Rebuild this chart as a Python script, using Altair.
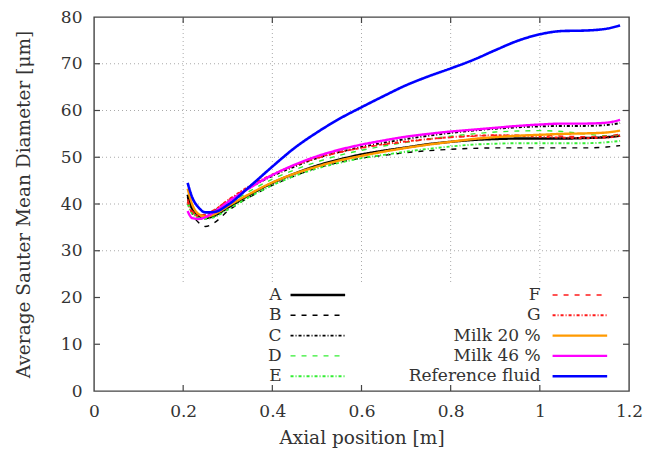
import altair as alt
import pandas as pd

# ---------------- data ----------------
x_pos = [0.21, 0.22, 0.235, 0.25, 0.27, 0.30, 0.35, 0.40, 0.45, 0.50, 0.55, 0.60,
         0.65, 0.70, 0.75, 0.80, 0.85, 0.90, 0.95, 1.00, 1.05, 1.10, 1.15, 1.18]

series_names = ["A", "B", "C", "D", "E", "F", "G", "Milk 20 %", "Milk 46 %", "Reference fluid"]

A = [42.0, 39.0, 37.5, 37.0, 37.5, 39.2, 42.0, 44.5, 46.5, 48.2, 49.5, 50.6,
     51.4, 52.1, 52.8, 53.3, 53.7, 53.9, 54.0, 54.0, 54.0, 54.1, 54.3, 54.6]
B = [41.0, 38.0, 36.0, 35.2, 36.0, 38.5, 41.5, 44.0, 46.0, 47.7, 48.9, 49.8,
     50.4, 51.0, 51.4, 51.7, 51.9, 52.0, 52.0, 52.0, 52.0, 52.0, 52.2, 52.5]
C = [41.5, 39.0, 37.5, 37.5, 38.5, 40.5, 43.5, 46.0, 48.0, 49.8, 51.1, 52.2,
     53.1, 53.9, 54.6, 55.2, 55.7, 56.1, 56.4, 56.6, 56.7, 56.7, 56.9, 57.3]
D = [40.5, 38.5, 37.2, 37.0, 37.8, 39.8, 42.8, 45.3, 47.3, 49.0, 50.4, 51.5,
     52.4, 53.2, 53.9, 54.5, 55.0, 55.4, 55.6, 55.7, 55.5, 55.0, 54.6, 54.8]
E = [40.0, 38.0, 37.0, 36.8, 37.2, 38.8, 41.6, 44.0, 46.0, 47.6, 48.8, 49.8,
     50.5, 51.2, 51.8, 52.3, 52.7, 52.9, 53.0, 53.0, 53.0, 53.0, 53.2, 53.5]
F = [41.0, 38.5, 37.6, 37.8, 38.8, 40.8, 43.8, 46.2, 48.2, 49.8, 51.0, 52.0,
     52.7, 53.3, 53.8, 54.2, 54.5, 54.7, 54.7, 54.7, 54.5, 54.4, 54.5, 55.0]
G = [40.5, 38.2, 37.4, 37.6, 38.7, 40.8, 43.9, 46.3, 48.3, 49.9, 51.1, 52.0,
     52.8, 53.4, 53.9, 54.3, 54.6, 54.7, 54.6, 54.4, 54.2, 54.1, 54.2, 54.6]
milk20 = [43.3, 40.0, 37.8, 37.3, 37.8, 39.5, 42.2, 44.6, 46.5, 48.0, 49.3, 50.3,
          51.2, 52.0, 52.7, 53.3, 53.9, 54.3, 54.6, 54.8, 55.0, 55.1, 55.3, 55.7]
milk46 = [38.5, 37.0, 36.8, 37.2, 38.3, 40.4, 43.5, 46.2, 48.4, 50.2, 51.6, 52.7,
          53.6, 54.4, 55.0, 55.5, 55.9, 56.3, 56.7, 57.0, 57.2, 57.2, 57.4, 58.0]
reference = [44.5, 41.5, 39.2, 38.2, 38.3, 39.8, 43.8, 48.0, 52.0, 55.3, 58.2, 60.7,
             63.1, 65.4, 67.3, 69.0, 70.8, 72.9, 74.9, 76.3, 77.0, 77.1, 77.5, 78.2]

series_values = [A, B, C, D, E, F, G, milk20, milk46, reference]

x_ticks = [0, 0.2, 0.4, 0.6, 0.8, 1.0, 1.2]
y_ticks = [0, 10, 20, 30, 40, 50, 60, 70, 80]

# ---------------- styles ----------------
colors = ["#000000", "#000000", "#000000", "#33ee33", "#33ee33",
          "#ff1a1a", "#ff1a1a", "#ff9a00", "#ff00ff", "#0000ff"]
dashes = [[1, 0], [5, 6], [3, 2, 1, 2], [5, 6], [3, 2, 1, 2],
          [5, 6], [3, 2, 1, 2], [1, 0], [1, 0], [1, 0]]
widths = [2.4, 1.4, 1.9, 1.4, 1.9, 1.4, 1.9, 2.4, 2.4, 2.6]

W, H = 535, 374
XMAX, YMAX = 1.2, 80
FONT = "DejaVu Serif"
TXT = "#333333"

rows = []
for name, vals, w in zip(series_names, series_values, widths):
    for xv, yv in zip(x_pos, vals):
        rows.append({"series": name, "x": xv, "y": yv, "w": w})
df = pd.DataFrame(rows)

xs = alt.Scale(domain=[0, XMAX], nice=False, zero=False)
ys = alt.Scale(domain=[0, YMAX], nice=False, zero=False)
col_scale = alt.Scale(domain=series_names, range=colors)
dash_scale = alt.Scale(domain=series_names, range=dashes)

# legend layout (reference-pixel -> data coordinates)
def px_x(p):
    return p / 539 * XMAX

def px_y(p):
    return YMAX - p / H * YMAX

leg_rows = []
for i, (name, w) in enumerate(zip(series_names, widths)):
    col, row = divmod(i, 5)
    tx = 189 if col == 0 else 450
    l1 = 198 if col == 0 else 462
    l2 = 253 if col == 0 else 517
    ty = 278 + row * 20.3
    leg_rows.append({"series": name, "tx": px_x(tx), "lx1": px_x(l1),
                     "lx2": px_x(l2), "ty": px_y(ty), "w": w})
leg = pd.DataFrame(leg_rows)

# ---------------- layers ----------------
base_axis_x = alt.Axis(values=x_ticks, format="~g", grid=False, ticks=False, domain=False,
                       labelFlush=False, labelOverlap=False, labelPadding=12,
                       title="Axial position [m]", titlePadding=9)
base_axis_y = alt.Axis(values=y_ticks, format="d", grid=False, ticks=False, domain=False,
                       labelFlush=False, labelOverlap=False, labelPadding=12,
                       title="Average Sauter Mean Diameter [μm]", titlePadding=27)

xgrid = alt.Chart(pd.DataFrame({"v": x_ticks[1:-1]})).mark_rule(
    color="#aaaaaa", strokeDash=[1, 3], strokeWidth=1).encode(
    x=alt.X("v:Q", scale=xs, axis=base_axis_x), y=alt.value(0), y2=alt.value(H))
ygrid = alt.Chart(pd.DataFrame({"v": y_ticks[1:-1]})).mark_rule(
    color="#aaaaaa", strokeDash=[1, 3], strokeWidth=1).encode(
    y=alt.Y("v:Q", scale=ys, axis=base_axis_y), x=alt.value(0), x2=alt.value(W))

legbox = alt.Chart(pd.DataFrame({"k": [0]})).mark_rect(color="white").encode(
    x=alt.value(1), x2=alt.value(W - 1), y=alt.value(266), y2=alt.value(H - 1))

tick_df_x = pd.DataFrame({"v": x_ticks[1:-1]})
tick_df_y = pd.DataFrame({"v": y_ticks[1:-1]})
tick_style = dict(color="#444444", strokeWidth=1.2)
xt_bottom = alt.Chart(tick_df_x).mark_rule(**tick_style).encode(
    x=alt.X("v:Q", scale=xs), y=alt.value(H), y2=alt.value(H - 6))
xt_top = alt.Chart(tick_df_x).mark_rule(**tick_style).encode(
    x=alt.X("v:Q", scale=xs), y=alt.value(0), y2=alt.value(6))
yt_left = alt.Chart(tick_df_y).mark_rule(**tick_style).encode(
    y=alt.Y("v:Q", scale=ys), x=alt.value(0), x2=alt.value(6))
yt_right = alt.Chart(tick_df_y).mark_rule(**tick_style).encode(
    y=alt.Y("v:Q", scale=ys), x=alt.value(W), x2=alt.value(W - 6))

lines = alt.Chart(df).mark_line(interpolate="monotone").encode(
    x=alt.X("x:Q", scale=xs),
    y=alt.Y("y:Q", scale=ys),
    color=alt.Color("series:N", scale=col_scale, legend=None),
    strokeDash=alt.StrokeDash("series:N", scale=dash_scale, legend=None),
    strokeWidth=alt.StrokeWidth("w:Q", scale=None, legend=None),
    order=alt.Order("x:Q"),
)

leg_text = alt.Chart(leg).mark_text(align="right", baseline="middle", font=FONT,
                                    fontSize=17, color=TXT).encode(
    x=alt.X("tx:Q", scale=xs), y=alt.Y("ty:Q", scale=ys), text="series:N")
leg_lines = alt.Chart(leg).mark_rule().encode(
    x=alt.X("lx1:Q", scale=xs), x2="lx2:Q", y=alt.Y("ty:Q", scale=ys),
    color=alt.Color("series:N", scale=col_scale, legend=None),
    strokeDash=alt.StrokeDash("series:N", scale=dash_scale, legend=None),
    strokeWidth=alt.StrokeWidth("w:Q", scale=None, legend=None),
)

chart = alt.layer(xgrid, ygrid, legbox, xt_bottom, xt_top, yt_left, yt_right,
                  lines, leg_text, leg_lines).properties(
    width=W, height=H,
    autosize=alt.AutoSizeParams(type="none"),
    padding={"left": 86, "top": 9, "right": 15, "bottom": 58},
).configure_view(stroke="#444444", strokeWidth=1.4).configure_axis(
    labelFont=FONT, labelFontSize=17, labelColor=TXT,
    titleFont=FONT, titleFontSize=18.5, titleFontWeight="normal", titleColor=TXT,
)

chart.save("out.html", embed_options={"renderer": "svg", "actions": False})
